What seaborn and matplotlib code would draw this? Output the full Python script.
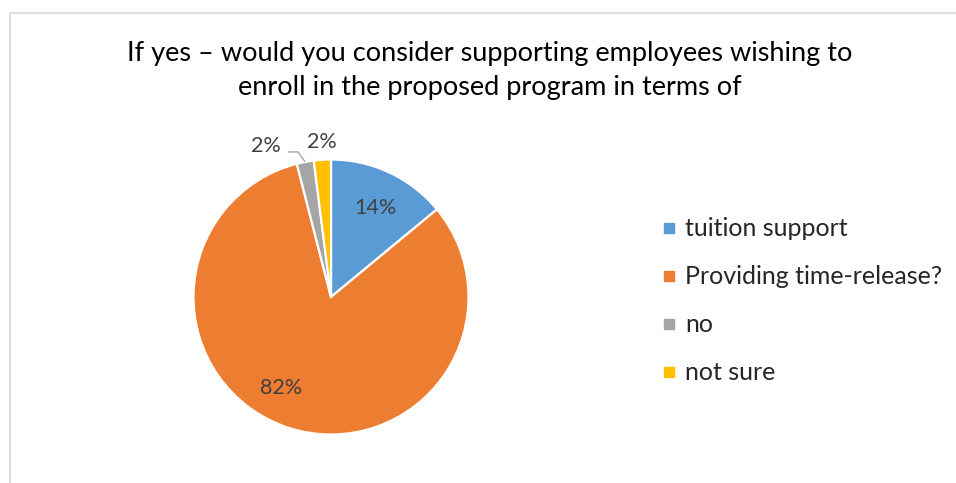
import matplotlib
matplotlib.use("Agg")
import matplotlib.pyplot as plt
import seaborn as sns
from matplotlib.lines import Line2D
from matplotlib.patches import Rectangle

# Data
categories = ["tuition support", "Providing time-release?", "no", "not sure"]
shares = [14, 82, 2, 2]
title = "If yes \u2013 would you consider supporting employees wishing to\nenroll in the proposed program in terms of"

colors = sns.color_palette(["#5B9BD5", "#ED7D31", "#A5A5A5", "#FFC000"])

sns.set_theme(style="white")
plt.rcParams['font.family'] = ['Lato', 'DejaVu Sans']

W, H = 956, 483
fig = plt.figure(figsize=(W / 100, H / 100), dpi=100)

# light chart border (left and top visible)
fig.add_artist(Rectangle((9.5 / W, -0.05), 1.2, 1 - 13.5 / H + 0.05,
                         transform=fig.transFigure, fill=False,
                         edgecolor="#D9D9D9", lw=1.2))

cx, cy, r = 331, 297, 137.5
ax = fig.add_axes([(cx - r) / W, (H - cy - r) / H, 2 * r / W, 2 * r / H])

wedges, texts, autotexts = ax.pie(
    shares, colors=colors, startangle=90, counterclock=False,
    autopct="%d%%", pctdistance=0.73,
    wedgeprops=dict(edgecolor="white", linewidth=1.6),
    textprops=dict(color="#404040", fontsize=15.5),
)
ax.set_xlim(-1, 1)
ax.set_ylim(-1, 1)
ax.set_aspect("equal")

# label placement (Excel best-fit style)
label_pos = [(0.32, 0.65), (-0.36, -0.66), (-0.47, 1.10), (-0.065, 1.13)]
for t, p in zip(autotexts, label_pos):
    t.set_position(p)
    t.set_clip_on(False)

# leader line for the "no" slice
ax.plot([-0.31, -0.24, -0.19], [1.055, 1.055, 0.985], color="#A5A5A5",
        lw=1.0, clip_on=False)

fig.text(490 / W, 1 - 71 / H, title, ha="center", va="center",
         fontsize=19.5, color="black", linespacing=1.45)

handles = [Line2D([0], [0], marker="s", linestyle="none", markersize=7,
                  markerfacecolor=c, markeredgecolor=c) for c in colors]
fig.legend(handles, categories, loc="upper left",
           bbox_to_anchor=(650 / W, 1 - 205 / H), frameon=False,
           fontsize=18, handlelength=0.5, handletextpad=0.4,
           labelspacing=1.0, borderpad=0)

fig.savefig("out.png", dpi=100)
